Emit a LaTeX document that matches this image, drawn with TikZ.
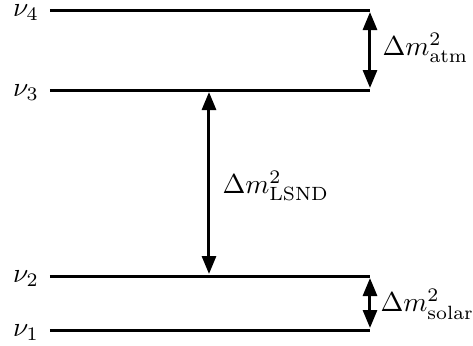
\documentclass[tikz,border=0pt]{standalone}
\usetikzlibrary{arrows.meta}
\begin{document}
\begin{tikzpicture}[x=0.5pt,y=-0.5pt,
  level/.style={line width=1.5pt},
  gap/.style={line width=1.5pt,{Triangle[length=9pt,width=7pt]}-{Triangle[length=9pt,width=7pt]},shorten <=1pt,shorten >=1pt},
  lab/.style={inner sep=0pt,scale=1.37}]
\useasboundingbox (0,0) rectangle (473,345);
\coordinate (l4a) at (50,10); \coordinate (l4b) at (370,10);
\coordinate (l3a) at (50,90); \coordinate (l3b) at (370,90);
\coordinate (l2a) at (50,276); \coordinate (l2b) at (370,276);
\coordinate (l1a) at (50,330); \coordinate (l1b) at (370,330);
\draw[level] (l4a) -- (l4b);
\draw[level] (l3a) -- (l3b);
\draw[level] (l2a) -- (l2b);
\draw[level] (l1a) -- (l1b);
\node[lab] (n4) at (26,13) {$\nu_4$};
\node[lab] (n3) at (26,93) {$\nu_3$};
\node[lab] (n2) at (26,279) {$\nu_2$};
\node[lab] (n1) at (26,333) {$\nu_1$};
\coordinate (a4) at (370,10); \coordinate (a3) at (370,90);
\coordinate (b3) at (209,90); \coordinate (b2) at (209,276);
\coordinate (c2) at (370,276); \coordinate (c1) at (370,330);
\draw[gap] (a4) -- (a3);
\draw[gap] (b3) -- (b2);
\draw[gap] (c2) -- (c1);
\node[lab,anchor=west] (atm) at (382,48) {$\Delta m^2_{\mathrm{atm}}$};
\node[lab,anchor=west] (lsnd) at (222,186) {$\Delta m^2_{\mathrm{LSND}}$};
\node[lab,anchor=west] (sol) at (380,304) {$\Delta m^2_{\mathrm{solar}}$};
\end{tikzpicture}
\end{document}
